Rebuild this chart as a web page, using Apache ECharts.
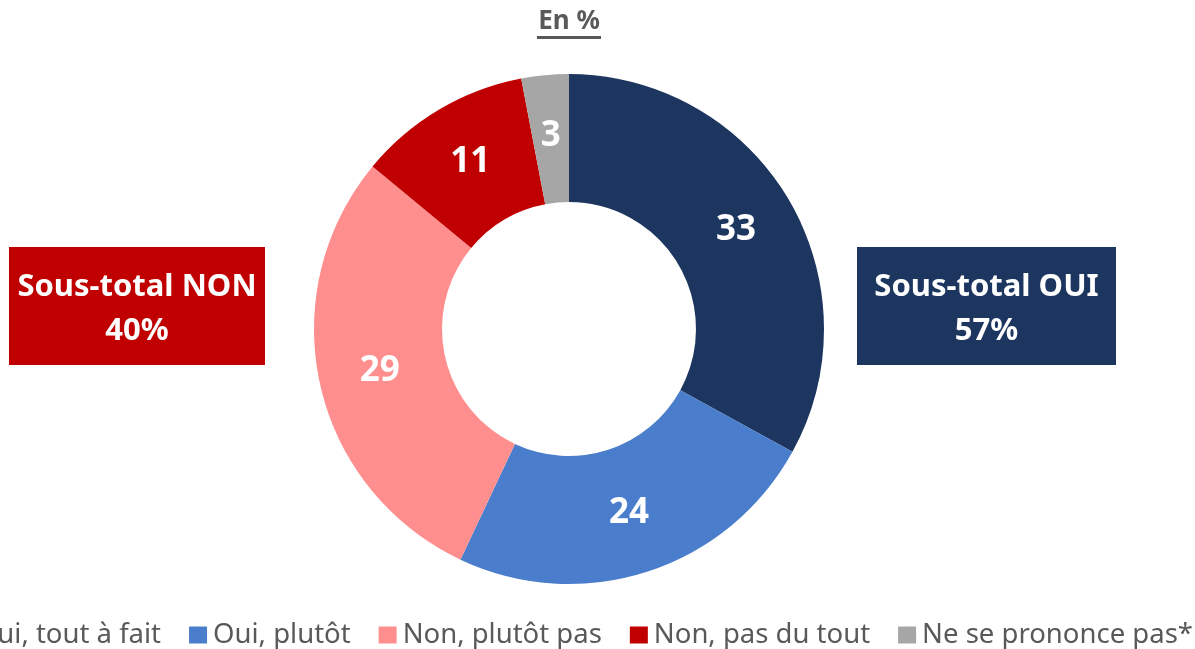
<!DOCTYPE html>
<html lang="fr">
<head>
    <meta charset="UTF-8">
    <title>En %</title>
    <style>
        html, body {
            margin: 0;
            padding: 0;
            background: #fff;
        }
        #chart {
            width: 1195px;
            height: 649px;
        }
    </style>
</head>
<body>
<div id="chart"></div>
<script src="https://cdn.jsdelivr.net/npm/echarts@6/dist/echarts.min.js"></script>
<script>
    var categories = ['Oui, tout à fait', 'Oui, plutôt', 'Non, plutôt pas', 'Non, pas du tout', 'Ne se prononce pas*'];
    var values = [33, 24, 29, 11, 3];
    var subtotalLabels = ['Sous-total NON', 'Sous-total OUI'];
    var subtotalValues = ['40%', '57%'];
    var titleText = 'En %';

    var colors = ['#1d365f', '#4a7dcb', '#ff8f8f', '#c00000', '#a6a6a6'];
    var font = '"Noto Sans", sans-serif';

    var chart = echarts.init(document.getElementById('chart'));

    function subtotalBox(x, w, fill, i) {
        return {
            type: 'group',
            left: x,
            top: 247,
            children: [
                {type: 'rect', shape: {width: w, height: 118}, style: {fill: fill}},
                {
                    type: 'text', x: w / 2, y: 62,
                    style: {
                        text: subtotalLabels[i] + '\n' + subtotalValues[i],
                        fill: '#fff', fontFamily: font, fontSize: 31, fontWeight: 'bold',
                        lineHeight: 44, align: 'center', verticalAlign: 'middle'
                    }
                }
            ]
        };
    }

    var option = {
        animation: false,
        color: colors,
        legend: {
            right: -3,
            bottom: -5,
            width: 1500,
            itemWidth: 18,
            itemHeight: 17,
            itemGap: 28,
            icon: 'rect',
            textStyle: {
                color: '#595959',
                fontFamily: font,
                fontSize: 27.5,
                padding: [0, 0, 0, 1]
            },
            data: categories
        },
        graphic: [
            {
                type: 'text',
                x: 569,
                y: 22,
                style: {
                    text: titleText,
                    fill: '#595959',
                    fontFamily: font,
                    fontSize: 26,
                    fontWeight: 'bold',
                    align: 'center',
                    verticalAlign: 'middle'
                }
            },
            {
                type: 'line',
                shape: {x1: 537, y1: 37.5, x2: 601, y2: 37.5},
                style: {stroke: '#595959', lineWidth: 3}
            },
            subtotalBox(9, 256, '#c00000', 0),
            subtotalBox(857, 259, '#1d365f', 1)
        ],
        series: [
            {
                type: 'pie',
                center: [569, 329],
                radius: [127, 255],
                startAngle: 90,
                clockwise: true,
                avoidLabelOverlap: false,
                label: {
                    show: true,
                    position: 'inside',
                    formatter: '{c}',
                    color: '#fff',
                    fontFamily: font,
                    fontSize: 35,
                    fontWeight: 'bold'
                },
                labelLine: {show: false},
                emphasis: {disabled: true},
                itemStyle: {borderWidth: 0},
                data: categories.map(function (name, i) {
                    return {name: name, value: values[i]};
                })
            }
        ]
    };

    chart.setOption(option);
</script>
</body>
</html>
